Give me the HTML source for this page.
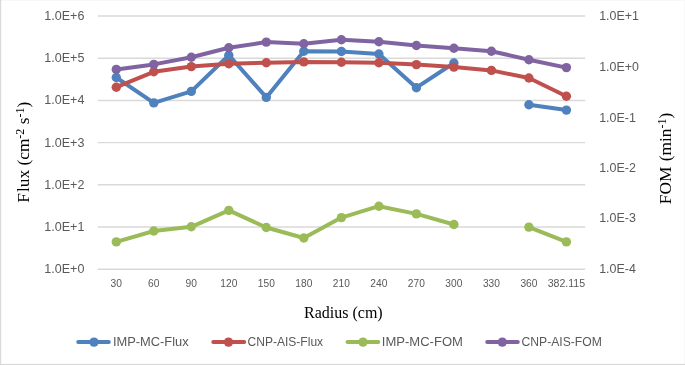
<!DOCTYPE html>
<html><head><meta charset="utf-8"><title>Chart</title>
<style>
html,body{margin:0;padding:0;background:#fff;}
body{width:685px;height:365px;overflow:hidden;position:relative;font-family:"Liberation Sans",sans-serif;}
</style></head><body>
<svg width="685" height="365" viewBox="0 0 685 365" style="position:absolute;left:0;top:0;will-change:transform">
<rect x="0" y="0" width="685" height="365" fill="#ffffff"/>
<rect x="0" y="0" width="685" height="0.5" fill="#f1f1f1"/>
<rect x="684.3" y="0" width="0.7" height="365" fill="#f6f6f6"/>
<rect x="0" y="0" width="1.2" height="365" fill="#d9d9d9"/>
<rect x="0" y="363.85" width="685" height="1.15" fill="#d9d9d9"/>
<line x1="97.8" y1="16.00" x2="585.2" y2="16.00" stroke="#d9d9d9" stroke-width="1.45"/>
<line x1="97.8" y1="58.21" x2="585.2" y2="58.21" stroke="#d9d9d9" stroke-width="1.45"/>
<line x1="97.8" y1="100.42" x2="585.2" y2="100.42" stroke="#d9d9d9" stroke-width="1.45"/>
<line x1="97.8" y1="142.63" x2="585.2" y2="142.63" stroke="#d9d9d9" stroke-width="1.45"/>
<line x1="97.8" y1="184.84" x2="585.2" y2="184.84" stroke="#d9d9d9" stroke-width="1.45"/>
<line x1="97.8" y1="227.05" x2="585.2" y2="227.05" stroke="#d9d9d9" stroke-width="1.45"/>
<line x1="97.8" y1="269.26" x2="585.2" y2="269.26" stroke="#d9d9d9" stroke-width="1.45"/>
<text x="44.3" y="20.10" textLength="40.1" lengthAdjust="spacingAndGlyphs" font-family="Liberation Sans, sans-serif" font-size="12" fill="#595959">1.0E+6</text>
<text x="44.3" y="62.25" textLength="40.1" lengthAdjust="spacingAndGlyphs" font-family="Liberation Sans, sans-serif" font-size="12" fill="#595959">1.0E+5</text>
<text x="44.3" y="104.40" textLength="40.1" lengthAdjust="spacingAndGlyphs" font-family="Liberation Sans, sans-serif" font-size="12" fill="#595959">1.0E+4</text>
<text x="44.3" y="146.55" textLength="40.1" lengthAdjust="spacingAndGlyphs" font-family="Liberation Sans, sans-serif" font-size="12" fill="#595959">1.0E+3</text>
<text x="44.3" y="188.70" textLength="40.1" lengthAdjust="spacingAndGlyphs" font-family="Liberation Sans, sans-serif" font-size="12" fill="#595959">1.0E+2</text>
<text x="44.3" y="230.85" textLength="40.1" lengthAdjust="spacingAndGlyphs" font-family="Liberation Sans, sans-serif" font-size="12" fill="#595959">1.0E+1</text>
<text x="44.3" y="273.00" textLength="40.1" lengthAdjust="spacingAndGlyphs" font-family="Liberation Sans, sans-serif" font-size="12" fill="#595959">1.0E+0</text>
<text x="599.2" y="20.10" textLength="39.7" lengthAdjust="spacingAndGlyphs" font-family="Liberation Sans, sans-serif" font-size="12" fill="#595959">1.0E+1</text>
<text x="599.2" y="70.83" textLength="39.7" lengthAdjust="spacingAndGlyphs" font-family="Liberation Sans, sans-serif" font-size="12" fill="#595959">1.0E+0</text>
<text x="599.2" y="121.81" textLength="36.7" lengthAdjust="spacingAndGlyphs" font-family="Liberation Sans, sans-serif" font-size="12" fill="#595959">1.0E-1</text>
<text x="599.2" y="172.29" textLength="36.7" lengthAdjust="spacingAndGlyphs" font-family="Liberation Sans, sans-serif" font-size="12" fill="#595959">1.0E-2</text>
<text x="599.2" y="222.42" textLength="36.7" lengthAdjust="spacingAndGlyphs" font-family="Liberation Sans, sans-serif" font-size="12" fill="#595959">1.0E-3</text>
<text x="599.2" y="273.20" textLength="36.7" lengthAdjust="spacingAndGlyphs" font-family="Liberation Sans, sans-serif" font-size="12" fill="#595959">1.0E-4</text>
<text x="110.60" y="287.2" textLength="11.4" lengthAdjust="spacingAndGlyphs" font-family="Liberation Sans, sans-serif" font-size="10" fill="#595959">30</text>
<text x="148.11" y="287.2" textLength="11.4" lengthAdjust="spacingAndGlyphs" font-family="Liberation Sans, sans-serif" font-size="10" fill="#595959">60</text>
<text x="185.62" y="287.2" textLength="11.4" lengthAdjust="spacingAndGlyphs" font-family="Liberation Sans, sans-serif" font-size="10" fill="#595959">90</text>
<text x="220.33" y="287.2" textLength="17.0" lengthAdjust="spacingAndGlyphs" font-family="Liberation Sans, sans-serif" font-size="10" fill="#595959">120</text>
<text x="257.84" y="287.2" textLength="17.0" lengthAdjust="spacingAndGlyphs" font-family="Liberation Sans, sans-serif" font-size="10" fill="#595959">150</text>
<text x="295.35" y="287.2" textLength="17.0" lengthAdjust="spacingAndGlyphs" font-family="Liberation Sans, sans-serif" font-size="10" fill="#595959">180</text>
<text x="332.86" y="287.2" textLength="17.0" lengthAdjust="spacingAndGlyphs" font-family="Liberation Sans, sans-serif" font-size="10" fill="#595959">210</text>
<text x="370.37" y="287.2" textLength="17.0" lengthAdjust="spacingAndGlyphs" font-family="Liberation Sans, sans-serif" font-size="10" fill="#595959">240</text>
<text x="407.88" y="287.2" textLength="17.0" lengthAdjust="spacingAndGlyphs" font-family="Liberation Sans, sans-serif" font-size="10" fill="#595959">270</text>
<text x="445.39" y="287.2" textLength="17.0" lengthAdjust="spacingAndGlyphs" font-family="Liberation Sans, sans-serif" font-size="10" fill="#595959">300</text>
<text x="482.90" y="287.2" textLength="17.0" lengthAdjust="spacingAndGlyphs" font-family="Liberation Sans, sans-serif" font-size="10" fill="#595959">330</text>
<text x="520.41" y="287.2" textLength="17.0" lengthAdjust="spacingAndGlyphs" font-family="Liberation Sans, sans-serif" font-size="10" fill="#595959">360</text>
<text x="547.67" y="287.2" textLength="37.5" lengthAdjust="spacingAndGlyphs" font-family="Liberation Sans, sans-serif" font-size="10" fill="#595959">382.115</text>
<polyline points="116.3,77.5 153.8,102.9 191.3,91.4 228.8,55.2 266.3,97.4 303.8,51.2 341.4,51.5 378.9,54.0 416.4,87.7 453.9,63.0" fill="none" stroke="#4f81bd" stroke-width="4.00" stroke-linecap="round" stroke-linejoin="round"/>
<polyline points="528.9,104.8 566.4,110.1" fill="none" stroke="#4f81bd" stroke-width="4.00" stroke-linecap="round" stroke-linejoin="round"/>
<circle cx="116.3" cy="77.5" r="4.70" fill="#4f81bd"/>
<circle cx="153.8" cy="102.9" r="4.70" fill="#4f81bd"/>
<circle cx="191.3" cy="91.4" r="4.70" fill="#4f81bd"/>
<circle cx="228.8" cy="55.2" r="4.70" fill="#4f81bd"/>
<circle cx="266.3" cy="97.4" r="4.70" fill="#4f81bd"/>
<circle cx="303.8" cy="51.2" r="4.70" fill="#4f81bd"/>
<circle cx="341.4" cy="51.5" r="4.70" fill="#4f81bd"/>
<circle cx="378.9" cy="54.0" r="4.70" fill="#4f81bd"/>
<circle cx="416.4" cy="87.7" r="4.70" fill="#4f81bd"/>
<circle cx="453.9" cy="63.0" r="4.70" fill="#4f81bd"/>
<circle cx="528.9" cy="104.8" r="4.70" fill="#4f81bd"/>
<circle cx="566.4" cy="110.1" r="4.70" fill="#4f81bd"/>
<polyline points="116.3,87.2 153.8,71.8 191.3,66.6 228.8,63.7 266.3,62.7 303.8,61.9 341.4,62.2 378.9,62.7 416.4,64.6 453.9,67.1 491.4,70.4 528.9,78.0 566.4,96.2" fill="none" stroke="#c0504d" stroke-width="4.00" stroke-linecap="round" stroke-linejoin="round"/>
<circle cx="116.3" cy="87.2" r="4.70" fill="#c0504d"/>
<circle cx="153.8" cy="71.8" r="4.70" fill="#c0504d"/>
<circle cx="191.3" cy="66.6" r="4.70" fill="#c0504d"/>
<circle cx="228.8" cy="63.7" r="4.70" fill="#c0504d"/>
<circle cx="266.3" cy="62.7" r="4.70" fill="#c0504d"/>
<circle cx="303.8" cy="61.9" r="4.70" fill="#c0504d"/>
<circle cx="341.4" cy="62.2" r="4.70" fill="#c0504d"/>
<circle cx="378.9" cy="62.7" r="4.70" fill="#c0504d"/>
<circle cx="416.4" cy="64.6" r="4.70" fill="#c0504d"/>
<circle cx="453.9" cy="67.1" r="4.70" fill="#c0504d"/>
<circle cx="491.4" cy="70.4" r="4.70" fill="#c0504d"/>
<circle cx="528.9" cy="78.0" r="4.70" fill="#c0504d"/>
<circle cx="566.4" cy="96.2" r="4.70" fill="#c0504d"/>
<polyline points="116.3,241.9 153.8,231.0 191.3,226.8 228.8,210.4 266.3,227.5 303.8,238.0 341.4,217.6 378.9,206.2 416.4,213.9 453.9,224.5" fill="none" stroke="#9bbb59" stroke-width="4.00" stroke-linecap="round" stroke-linejoin="round"/>
<polyline points="528.9,227.1 566.4,241.9" fill="none" stroke="#9bbb59" stroke-width="4.00" stroke-linecap="round" stroke-linejoin="round"/>
<circle cx="116.3" cy="241.9" r="4.70" fill="#9bbb59"/>
<circle cx="153.8" cy="231.0" r="4.70" fill="#9bbb59"/>
<circle cx="191.3" cy="226.8" r="4.70" fill="#9bbb59"/>
<circle cx="228.8" cy="210.4" r="4.70" fill="#9bbb59"/>
<circle cx="266.3" cy="227.5" r="4.70" fill="#9bbb59"/>
<circle cx="303.8" cy="238.0" r="4.70" fill="#9bbb59"/>
<circle cx="341.4" cy="217.6" r="4.70" fill="#9bbb59"/>
<circle cx="378.9" cy="206.2" r="4.70" fill="#9bbb59"/>
<circle cx="416.4" cy="213.9" r="4.70" fill="#9bbb59"/>
<circle cx="453.9" cy="224.5" r="4.70" fill="#9bbb59"/>
<circle cx="528.9" cy="227.1" r="4.70" fill="#9bbb59"/>
<circle cx="566.4" cy="241.9" r="4.70" fill="#9bbb59"/>
<polyline points="116.3,69.4 153.8,64.4 191.3,57.2 228.8,47.8 266.3,42.1 303.8,43.8 341.4,39.8 378.9,41.8 416.4,45.5 453.9,48.3 491.4,51.2 528.9,59.7 566.4,67.6" fill="none" stroke="#8064a2" stroke-width="4.00" stroke-linecap="round" stroke-linejoin="round"/>
<circle cx="116.3" cy="69.4" r="4.70" fill="#8064a2"/>
<circle cx="153.8" cy="64.4" r="4.70" fill="#8064a2"/>
<circle cx="191.3" cy="57.2" r="4.70" fill="#8064a2"/>
<circle cx="228.8" cy="47.8" r="4.70" fill="#8064a2"/>
<circle cx="266.3" cy="42.1" r="4.70" fill="#8064a2"/>
<circle cx="303.8" cy="43.8" r="4.70" fill="#8064a2"/>
<circle cx="341.4" cy="39.8" r="4.70" fill="#8064a2"/>
<circle cx="378.9" cy="41.8" r="4.70" fill="#8064a2"/>
<circle cx="416.4" cy="45.5" r="4.70" fill="#8064a2"/>
<circle cx="453.9" cy="48.3" r="4.70" fill="#8064a2"/>
<circle cx="491.4" cy="51.2" r="4.70" fill="#8064a2"/>
<circle cx="528.9" cy="59.7" r="4.70" fill="#8064a2"/>
<circle cx="566.4" cy="67.6" r="4.70" fill="#8064a2"/>
<text x="304" y="317.7" font-family="Liberation Serif, serif" font-size="16" fill="#000">Radius (cm)</text>
<text transform="translate(28.9,202.65) rotate(-90)" font-family="Liberation Serif, serif" font-size="17.33" fill="#000">F<tspan dx="0.95">l</tspan>ux (cm<tspan font-size="12" dy="-5.2">-2</tspan><tspan dy="5.2"> s</tspan><tspan font-size="12" dy="-5.2">-1</tspan><tspan dy="5.2">)</tspan></text>
<text transform="translate(670.7,204.2) rotate(-90)" font-family="Liberation Serif, serif" font-size="17.33" fill="#000">FOM <tspan dx="1">(</tspan>min<tspan font-size="12" dy="-5.2">-1</tspan><tspan dy="5.2">)</tspan></text>
<line x1="78.2" y1="342.1" x2="108.8" y2="342.1" stroke="#4f81bd" stroke-width="4.00" stroke-linecap="round"/>
<circle cx="94.0" cy="342.1" r="4.70" fill="#4f81bd"/>
<text x="112.9" y="346" textLength="75.7" lengthAdjust="spacingAndGlyphs" font-family="Liberation Sans, sans-serif" font-size="12" fill="#595959">IMP-MC-Flux</text>
<line x1="213.3" y1="342.1" x2="244.2" y2="342.1" stroke="#c0504d" stroke-width="4.00" stroke-linecap="round"/>
<circle cx="228.5" cy="342.1" r="4.70" fill="#c0504d"/>
<text x="247.5" y="346" textLength="75.6" lengthAdjust="spacingAndGlyphs" font-family="Liberation Sans, sans-serif" font-size="12" fill="#595959">CNP-AIS-Flux</text>
<line x1="347.5" y1="342.1" x2="378.3" y2="342.1" stroke="#9bbb59" stroke-width="4.00" stroke-linecap="round"/>
<circle cx="363.0" cy="342.1" r="4.70" fill="#9bbb59"/>
<text x="381.8" y="346" textLength="81.1" lengthAdjust="spacingAndGlyphs" font-family="Liberation Sans, sans-serif" font-size="12" fill="#595959">IMP-MC-FOM</text>
<line x1="487.2" y1="342.1" x2="517.8" y2="342.1" stroke="#8064a2" stroke-width="4.00" stroke-linecap="round"/>
<circle cx="502.3" cy="342.1" r="4.70" fill="#8064a2"/>
<text x="521.5" y="346" textLength="80.4" lengthAdjust="spacingAndGlyphs" font-family="Liberation Sans, sans-serif" font-size="12" fill="#595959">CNP-AIS-FOM</text>
</svg>
</body></html>
